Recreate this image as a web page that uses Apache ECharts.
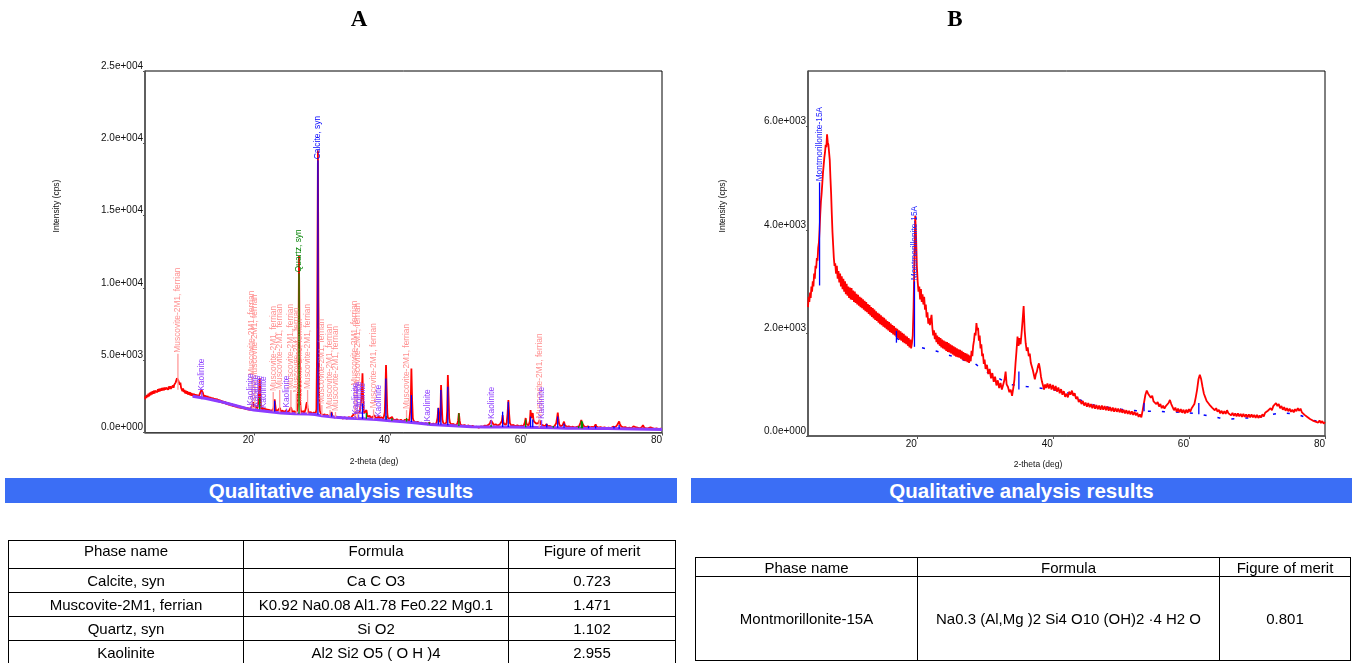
<!DOCTYPE html>
<html>
<head>
<meta charset="utf-8">
<script src="https://cdn.jsdelivr.net/npm/echarts@6/dist/echarts.min.js"></script>
<style>
html,body{margin:0;padding:0;background:#fff;overflow:hidden;}
#wrap{position:relative;width:1357px;height:663px;overflow:hidden;font-family:"Liberation Sans",Arial,Helvetica,sans-serif;}
#chart{position:absolute;left:0;top:0;width:1357px;height:663px;}
.bar{position:absolute;height:25px;line-height:25px;background:#3b6ef5;color:#fff;font-weight:bold;font-size:20.5px;text-align:center;}
table{position:absolute;border-collapse:collapse;font-size:15px;color:#000;table-layout:fixed;}
td{border:1px solid #000;text-align:center;padding:0;white-space:nowrap;overflow:hidden;}
</style>
</head>
<body>
<div id="wrap">
<div id="chart"></div>
<div class="bar" style="left:5px;top:478px;width:672px;">Qualitative analysis results</div>
<div class="bar" style="left:691px;top:478px;width:661px;">Qualitative analysis results</div>
<table id="tA" style="left:8px;top:540px;width:667px;">
<colgroup><col style="width:235px"><col style="width:265px"><col style="width:167px"></colgroup>
<tr style="height:28px"><td style="vertical-align:top;padding-top:1px">Phase name</td><td style="vertical-align:top;padding-top:1px">Formula</td><td style="vertical-align:top;padding-top:1px">Figure of merit</td></tr>
<tr style="height:24px"><td>Calcite, syn</td><td>Ca C O3</td><td>0.723</td></tr>
<tr style="height:24px"><td>Muscovite-2M1, ferrian</td><td>K0.92 Na0.08 Al1.78 Fe0.22 Mg0.1</td><td>1.471</td></tr>
<tr style="height:24px"><td>Quartz, syn</td><td>Si O2</td><td>1.102</td></tr>
<tr style="height:24px"><td>Kaolinite</td><td>Al2 Si2 O5 ( O H )4</td><td>2.955</td></tr>
</table>
<table id="tB" style="left:695px;top:557px;width:655px;">
<colgroup><col style="width:222px"><col style="width:302px"><col style="width:131px"></colgroup>
<tr style="height:19px"><td>Phase name</td><td>Formula</td><td>Figure of merit</td></tr>
<tr style="height:84px"><td>Montmorillonite-15A</td><td>Na0.3 (Al,Mg )2 Si4 O10 (OH)2 ·4 H2 O</td><td>0.801</td></tr>
</table>
</div>
<script>
// ---------------- DATA ----------------
const xTicks = [20, 40, 60, 80];
const yTicksB = [0, 2000, 4000, 6000];

// Chart A measured pattern [2theta, intensity (cps)]
const patternA = [[4.0,2300],[4.1,2520],[4.2,2380],[4.3,2600],[4.4,2450],[4.5,2680],[4.6,2500],[4.7,2750],[4.8,2580],[4.9,2800],[5.0,2620],[5.1,2850],[5.2,2680],[5.3,2900],[5.4,2700],[5.5,2880],[5.6,2760],[5.7,2950],[5.8,2780],[5.9,3000],[6.0,2820],[6.1,3020],[6.2,2850],[6.3,3050],[6.4,2880],[6.5,3080],[6.6,2900],[6.7,3100],[6.8,2920],[6.9,3120],[7.0,2950],[7.1,3100],[7.2,2980],[7.3,3150],[7.4,2960],[7.5,3180],[7.6,3000],[7.7,3200],[7.8,3020],[7.9,3150],[8.0,3050],[8.1,3250],[8.2,3100],[8.3,3300],[8.4,3250],[8.5,3450],[8.6,3550],[8.7,3750],[8.8,3880],[8.9,3600],[9.0,3450],[9.1,3300],[9.2,3450],[9.3,3100],[9.4,3000],[9.5,2850],[9.6,3050],[9.7,2800],[9.8,2950],[9.9,2700],[10.0,2900],[10.1,2680],[10.2,2850],[10.3,2620],[10.4,2800],[10.5,2600],[10.6,2780],[10.7,2560],[10.8,2740],[10.9,2540],[11.0,2700],[11.1,2500],[11.2,2680],[11.3,2480],[11.4,2650],[11.5,2450],[11.6,2640],[11.7,2430],[11.8,2600],[11.9,2420],[12.0,2620],[12.1,2500],[12.2,2750],[12.3,2950],[12.4,3050],[12.5,2750],[12.6,2600],[12.7,2420],[12.8,2580],[12.9,2380],[13.0,2550],[13.1,2350],[13.2,2520],[13.3,2320],[13.4,2480],[13.5,2300],[13.6,2460],[13.7,2270],[13.8,2430],[13.9,2240],[14.0,2400],[14.1,2200],[14.2,2380],[14.3,2180],[14.4,2350],[14.5,2150],[14.6,2330],[14.7,2120],[14.8,2300],[14.9,2100],[15.0,2260],[15.1,2070],[15.2,2230],[15.3,2040],[15.4,2200],[15.5,2010],[15.6,2170],[15.7,1980],[15.8,2140],[15.9,1950],[16.0,2100],[16.1,1920],[16.2,2080],[16.3,1890],[16.4,2050],[16.5,1860],[16.6,2020],[16.7,1830],[16.8,1990],[16.9,1800],[17.0,1960],[17.1,1780],[17.2,1930],[17.3,1750],[17.4,1900],[17.5,1730],[17.6,1880],[17.7,1700],[17.8,1860],[17.9,1680],[18.0,1840],[18.1,1660],[18.2,1810],[18.3,1640],[18.4,1790],[18.5,1620],[18.6,1770],[18.7,1600],[18.8,1750],[18.9,1580],[19.0,1730],[19.1,1560],[19.2,1710],[19.3,1540],[19.4,1690],[19.5,1530],[19.6,1700],[19.7,1600],[19.8,1950],[19.9,2100],[20.0,1750],[20.1,1900],[20.2,2000],[20.3,1700],[20.4,1850],[20.5,1650],[20.6,1800],[20.7,2200],[20.8,3200],[20.86,3760],[20.95,2800],[21.05,1800],[21.1,1600],[21.2,1750],[21.3,1550],[21.4,1720],[21.5,1520],[21.6,1680],[21.7,1500],[21.8,1650],[21.9,1480],[22.0,1620],[22.1,1460],[22.2,1600],[22.3,1440],[22.4,1580],[22.5,1430],[22.6,1570],[22.7,1420],[22.8,1560],[22.9,1700],[23.0,2000],[23.06,2300],[23.15,1900],[23.25,1500],[23.35,1600],[23.45,1400],[23.55,1550],[23.65,1420],[23.75,1600],[23.85,1700],[23.95,1450],[24.05,1550],[24.15,1380],[24.25,1520],[24.35,1360],[24.45,1500],[24.55,1350],[24.65,1480],[24.75,1550],[24.85,1380],[24.95,1500],[25.05,1360],[25.15,1480],[25.25,1400],[25.35,1550],[25.45,1750],[25.55,1600],[25.65,1400],[25.75,1500],[25.85,1350],[25.95,1480],[26.05,1340],[26.15,1470],[26.25,1350],[26.35,1500],[26.45,1900],[26.55,5000],[26.64,12200],[26.72,6000],[26.8,2200],[26.9,1550],[27.0,1400],[27.1,1500],[27.2,1350],[27.3,1480],[27.4,1340],[27.5,1450],[27.6,1600],[27.7,1900],[27.8,2100],[27.9,1700],[28.0,1500],[28.1,1350],[28.2,1450],[28.3,1300],[28.4,1420],[28.5,1280],[28.6,1400],[28.7,1270],[28.8,1380],[28.9,1300],[29.0,1400],[29.1,1350],[29.2,1600],[29.3,6000],[29.42,19500],[29.5,9000],[29.6,2500],[29.7,1500],[29.8,1350],[29.9,1220],[30.0,1320],[30.1,1180],[30.2,1300],[30.3,1160],[30.4,1270],[30.5,1130],[30.6,1250],[30.7,1110],[30.8,1220],[30.9,1090],[31.0,1200],[31.1,1080],[31.2,1180],[31.3,1250],[31.42,1420],[31.55,1150],[31.65,1050],[31.75,1150],[31.85,1030],[31.95,1130],[32.05,1010],[32.15,1110],[32.25,1000],[32.35,1100],[32.45,990],[32.55,1090],[32.65,980],[32.75,1080],[32.85,970],[32.95,1070],[33.05,960],[33.15,1060],[33.25,960],[33.35,1050],[33.45,950],[33.55,1050],[33.65,950],[33.75,1050],[33.85,960],[33.95,1060],[34.05,980],[34.15,1080],[34.25,1000],[34.35,1120],[34.45,1080],[34.55,1200],[34.65,1150],[34.75,1300],[34.85,1250],[34.95,1400],[35.05,1350],[35.15,1500],[35.25,1380],[35.35,1450],[35.45,1300],[35.55,1380],[35.65,1280],[35.75,1500],[35.85,2500],[35.97,4100],[36.05,2600],[36.15,1500],[36.25,1350],[36.35,1450],[36.45,1300],[36.55,1550],[36.65,1250],[36.75,1100],[36.85,1200],[36.95,1050],[37.05,1150],[37.15,1000],[37.25,1100],[37.35,980],[37.45,1080],[37.55,1000],[37.65,1100],[37.75,1200],[37.85,1050],[37.95,960],[38.05,1080],[38.15,980],[38.25,1100],[38.35,1150],[38.45,1000],[38.55,1080],[38.65,950],[38.75,1050],[38.85,940],[38.95,1040],[39.05,960],[39.15,1050],[39.25,1400],[39.35,3000],[39.43,4660],[39.52,3000],[39.62,1300],[39.72,1000],[39.82,950],[39.92,880],[40.02,980],[40.12,880],[40.22,960],[40.32,1080],[40.42,930],[40.52,860],[40.62,940],[40.72,840],[40.82,920],[40.92,830],[41.02,910],[41.12,820],[41.22,900],[41.32,810],[41.42,890],[41.52,800],[41.62,880],[41.72,790],[41.82,870],[41.92,780],[42.02,860],[42.12,790],[42.22,880],[42.32,950],[42.45,1000],[42.55,880],[42.65,800],[42.75,870],[42.85,820],[42.95,950],[43.05,1800],[43.16,4430],[43.27,2200],[43.37,1000],[43.47,820],[43.57,750],[43.67,820],[43.77,700],[43.87,770],[43.97,670],[44.07,740],[44.17,650],[44.27,720],[44.37,630],[44.47,700],[44.57,610],[44.67,680],[44.77,600],[44.87,670],[44.97,590],[45.07,660],[45.17,580],[45.27,650],[45.37,570],[45.47,640],[45.57,560],[45.67,630],[45.77,700],[45.87,580],[45.97,640],[46.07,550],[46.17,620],[46.27,540],[46.37,610],[46.47,530],[46.57,600],[46.67,540],[46.77,620],[46.87,700],[47.0,1000],[47.12,1700],[47.22,1000],[47.32,700],[47.42,1200],[47.52,3280],[47.62,2000],[47.72,900],[47.82,700],[47.92,620],[48.02,560],[48.12,620],[48.22,560],[48.32,700],[48.42,1500],[48.52,3970],[48.62,2500],[48.72,1000],[48.82,700],[48.92,600],[49.02,540],[49.12,600],[49.22,520],[49.32,590],[49.42,510],[49.52,580],[49.62,500],[49.72,560],[49.82,500],[49.92,600],[50.02,800],[50.14,1350],[50.26,800],[50.36,560],[50.46,490],[50.56,550],[50.66,470],[50.76,530],[50.86,460],[50.96,520],[51.06,450],[51.16,510],[51.26,440],[51.36,500],[51.46,430],[51.56,490],[51.66,420],[51.76,480],[51.86,410],[51.96,470],[52.06,400],[52.16,460],[52.26,390],[52.36,440],[52.46,370],[52.56,430],[52.66,340],[52.76,400],[52.86,300],[52.96,380],[53.06,330],[53.16,410],[53.26,350],[53.36,420],[53.46,380],[53.56,440],[53.66,400],[53.76,460],[53.86,420],[53.96,480],[54.06,440],[54.16,500],[54.26,460],[54.36,530],[54.46,480],[54.56,560],[54.66,620],[54.76,700],[54.86,850],[54.96,900],[55.06,700],[55.16,600],[55.26,520],[55.36,580],[55.46,500],[55.56,560],[55.66,490],[55.76,550],[55.86,480],[55.96,540],[56.06,490],[56.16,560],[56.26,520],[56.36,620],[56.46,800],[56.57,1200],[56.68,750],[56.78,580],[56.88,520],[56.98,600],[57.08,550],[57.18,700],[57.3,1300],[57.42,2250],[57.54,1200],[57.64,650],[57.74,540],[57.84,480],[57.94,540],[58.04,460],[58.14,520],[58.24,450],[58.34,510],[58.44,440],[58.54,500],[58.64,430],[58.74,490],[58.84,430],[58.94,480],[59.04,420],[59.14,480],[59.24,420],[59.34,470],[59.44,420],[59.54,480],[59.64,440],[59.74,500],[59.84,700],[59.96,1000],[60.08,600],[60.18,480],[60.28,540],[60.38,480],[60.48,580],[60.58,800],[60.68,1550],[60.78,1000],[60.88,900],[61.0,1350],[61.1,900],[61.2,750],[61.3,680],[61.4,740],[61.5,620],[61.6,680],[61.7,580],[61.8,640],[61.9,700],[62.0,860],[62.1,700],[62.2,560],[62.3,520],[62.4,460],[62.5,500],[62.6,430],[62.7,480],[62.8,420],[62.9,500],[63.0,580],[63.06,700],[63.15,520],[63.25,430],[63.35,470],[63.45,400],[63.55,450],[63.65,390],[63.75,440],[63.85,380],[63.95,430],[64.05,460],[64.15,400],[64.25,430],[64.35,500],[64.45,650],[64.57,1000],[64.68,1370],[64.78,900],[64.88,600],[64.98,480],[65.08,420],[65.18,470],[65.28,430],[65.38,500],[65.48,600],[65.6,750],[65.7,520],[65.8,420],[65.9,460],[66.0,390],[66.1,440],[66.2,380],[66.3,430],[66.4,370],[66.5,420],[66.6,360],[66.7,410],[66.8,350],[66.9,400],[67.0,350],[67.1,400],[67.2,340],[67.3,390],[67.4,340],[67.5,390],[67.6,350],[67.7,450],[67.8,420],[67.9,500],[68.0,650],[68.14,860],[68.22,700],[68.31,800],[68.4,600],[68.5,450],[68.6,390],[68.7,420],[68.8,360],[68.9,400],[69.0,360],[69.1,420],[69.2,520],[69.3,420],[69.4,360],[69.5,400],[69.6,350],[69.7,390],[69.8,340],[69.9,380],[70.0,350],[70.1,400],[70.24,560],[70.35,420],[70.45,360],[70.55,390],[70.65,340],[70.75,380],[70.85,330],[70.95,370],[71.05,320],[71.15,360],[71.25,320],[71.35,360],[71.45,310],[71.55,350],[71.65,310],[71.75,350],[71.85,300],[71.95,340],[72.05,300],[72.15,340],[72.25,300],[72.35,340],[72.45,300],[72.55,340],[72.65,320],[72.8,400],[72.94,500],[73.05,400],[73.15,360],[73.25,400],[73.35,460],[73.46,550],[73.58,620],[73.7,760],[73.8,600],[73.9,500],[74.0,420],[74.1,380],[74.2,420],[74.3,350],[74.4,390],[74.5,330],[74.6,370],[74.7,320],[74.8,360],[74.9,310],[75.0,350],[75.1,300],[75.2,340],[75.3,300],[75.4,340],[75.5,290],[75.6,330],[75.7,370],[75.8,420],[75.9,360],[76.0,330],[76.1,370],[76.2,310],[76.3,400],[76.4,330],[76.5,300],[76.6,340],[76.7,290],[76.8,330],[76.9,290],[77.0,350],[77.1,450],[77.2,500],[77.3,400],[77.4,330],[77.5,300],[77.6,330],[77.7,280],[77.8,320],[77.9,270],[78.0,310],[78.1,270],[78.2,320],[78.3,360],[78.4,300],[78.5,270],[78.6,300],[78.7,260],[78.8,290],[78.9,250],[79.0,280],[79.1,250],[79.2,280],[79.3,240],[79.4,270],[79.5,240],[79.6,270],[79.7,230],[79.8,260],[79.9,230],[80.0,250]];

// Chart A background curve (purple)
const backgroundA = [[11.0,2500],[13,2350],[15,2150],[17,1900],[19,1650],[20,1550],[22,1450],[24,1350],[26,1300],[28,1280],[29,1250],[30,1150],[32,1050],[34,980],[36,950],[38,900],[40,820],[42,750],[44,650],[46,550],[48,500],[50,450],[52,400],[54,380],[56,380],[58,380],[60,360],[62,340],[64,320],[66,300],[68,290],[70,280],[72,270],[74,260],[76,250],[78,230],[80,200]];

// Reference sticks: [2theta, base, top, labelled]
const calciteA = [[23.06,1450,2200,0],[29.42,1250,18830,1],[31.42,1100,1380,0],[35.97,950,2000,0],[39.41,900,3740,0],[43.16,720,2590,0],[47.12,550,1690,0],[47.5,550,2940,0],[48.51,500,3170,0],[56.57,380,1440,0],[57.4,380,2130,0],[60.68,360,1100,0],[61.0,360,900,0],[63.06,340,600,0],[64.67,330,1100,0],[65.6,320,620,0],[69.2,290,450,0],[70.24,280,460,0],[72.94,270,430,0],[73.7,260,520,0]];
const quartzA = [[20.86,1600,2400,0],[26.64,1300,11020,1],[36.54,950,1350,0],[39.47,900,1150,0],[40.29,820,1000,0],[42.45,750,1000,0],[45.79,550,700,0],[50.14,450,1330,0],[54.87,380,520,0],[59.96,360,900,0],[64.03,330,460,0],[67.74,300,450,0],[68.14,290,820,0],[68.31,290,760,0]];
const muscoviteA = [[8.84,2950,5450,1],[19.75,1650,3850,1],[20.15,1650,3600,1],[22.85,1450,2800,1],[23.8,1400,2940,1],[25.45,1350,2940,1],[26.25,1300,2700,1],[26.8,1300,1900,1],[27.9,1280,2940,1],[30.0,1150,1900,1],[31.2,1100,1550,1],[32.0,1050,1420,1],[34.85,980,3170,1],[35.2,970,3000,1],[37.6,920,1600,1],[42.45,750,1550,1],[61.95,350,900,1]];
const kaoliniteA = [[12.35,2300,2820,1],[19.55,1550,1800,1],[20.3,1550,1700,1],[20.85,1550,1650,1],[21.5,1500,1600,1],[24.8,1350,1650,1],[34.9,980,1150,1],[35.4,970,1250,1],[36.0,950,1150,1],[38.4,900,1000,1],[45.5,560,700,1],[54.9,380,860,1],[62.3,340,860,1]];

// Chart B measured pattern
const patternB = [[4.0,2500],[4.1,2700],[4.2,2600],[4.3,2780],[4.4,2680],[4.5,2900],[4.6,2800],[4.7,3000],[4.8,2900],[4.9,3150],[5.0,3050],[5.1,3300],[5.2,3250],[5.3,3450],[5.4,3400],[5.5,3650],[5.6,3750],[5.7,4000],[5.8,4300],[5.9,4550],[6.0,4700],[6.1,4900],[6.2,5100],[6.3,5250],[6.4,5400],[6.5,5500],[6.6,5650],[6.7,5600],[6.8,5850],[6.9,5700],[7.0,5650],[7.1,5500],[7.2,5350],[7.3,5000],[7.4,4700],[7.5,4300],[7.6,3950],[7.7,3700],[7.8,3450],[7.9,3300],[8.0,3350],[8.12,3150],[8.24,3300],[8.36,3050],[8.48,3200],[8.6,2980],[8.72,3150],[8.84,2900],[8.96,3100],[9.08,2850],[9.2,3050],[9.32,2800],[9.44,3000],[9.56,2750],[9.68,2950],[9.8,2720],[9.92,2900],[10.04,2680],[10.16,2880],[10.28,2650],[10.4,2870],[10.52,2640],[10.64,2820],[10.76,2600],[10.88,2800],[11.0,2580],[11.12,2760],[11.24,2550],[11.36,2740],[11.48,2530],[11.6,2700],[11.72,2500],[11.84,2680],[11.96,2480],[12.08,2650],[12.2,2450],[12.32,2620],[12.44,2420],[12.56,2600],[12.68,2400],[12.8,2560],[12.92,2370],[13.04,2540],[13.16,2340],[13.28,2500],[13.4,2310],[13.52,2480],[13.64,2280],[13.76,2450],[13.88,2250],[14.0,2420],[14.12,2230],[14.24,2390],[14.36,2200],[14.48,2370],[14.6,2170],[14.72,2340],[14.84,2150],[14.96,2310],[15.08,2120],[15.2,2290],[15.32,2100],[15.44,2260],[15.56,2070],[15.68,2230],[15.8,2050],[15.92,2210],[16.04,2020],[16.16,2180],[16.28,2000],[16.4,2150],[16.52,1970],[16.64,2130],[16.76,1950],[16.88,2100],[17.0,1920],[17.12,2080],[17.24,1900],[17.36,2050],[17.48,1870],[17.6,2030],[17.72,1850],[17.84,2000],[17.96,1820],[18.08,1980],[18.2,1800],[18.32,1950],[18.44,1780],[18.56,1930],[18.68,1750],[18.8,1900],[18.92,1720],[19.04,1870],[19.16,1700],[19.28,1800],[19.4,1950],[19.52,2500],[19.64,3400],[19.76,4270],[19.88,3900],[20.0,3300],[20.12,3000],[20.24,2800],[20.36,2900],[20.48,2650],[20.6,2850],[20.72,2600],[20.84,2750],[20.96,2550],[21.08,2700],[21.2,2450],[21.32,2550],[21.44,2300],[21.56,2400],[21.68,2180],[21.8,2280],[21.92,2150],[22.04,2250],[22.16,2350],[22.28,2100],[22.4,1950],[22.52,2050],[22.64,1880],[22.76,2000],[22.88,1820],[23.0,1950],[23.12,1780],[23.24,1920],[23.36,1750],[23.48,1900],[23.6,1720],[23.72,1870],[23.84,1700],[23.96,1850],[24.08,1680],[24.2,1830],[24.32,1650],[24.44,1820],[24.56,1630],[24.68,1800],[24.8,1620],[24.92,1780],[25.04,1600],[25.16,1760],[25.28,1580],[25.4,1740],[25.52,1560],[25.64,1720],[25.76,1540],[25.88,1700],[26.0,1530],[26.12,1680],[26.24,1520],[26.36,1670],[26.48,1500],[26.6,1650],[26.72,1480],[26.84,1630],[26.96,1460],[27.08,1610],[27.2,1450],[27.32,1600],[27.44,1430],[27.56,1580],[27.68,1420],[27.8,1560],[27.92,1450],[28.04,1650],[28.16,1550],[28.28,1750],[28.4,1850],[28.52,2000],[28.64,1950],[28.76,2190],[28.88,2050],[29.0,2100],[29.12,1850],[29.24,1950],[29.36,1700],[29.48,1780],[29.6,1550],[29.72,1600],[29.84,1400],[29.96,1480],[30.1,1300],[30.3,1380],[30.5,1200],[30.7,1300],[30.9,1120],[31.1,1220],[31.3,1050],[31.5,1150],[31.7,980],[31.9,1080],[32.1,930],[32.3,1030],[32.5,900],[32.7,1000],[32.9,1100],[33.05,1250],[33.2,1000],[33.4,950],[33.6,850],[33.8,900],[34.0,780],[34.2,950],[34.35,1100],[34.5,1400],[34.65,1650],[34.8,1930],[34.95,1750],[35.1,1900],[35.25,1780],[35.4,2000],[35.55,2250],[35.7,2520],[35.85,2050],[36.0,1800],[36.15,1650],[36.3,1720],[36.45,1550],[36.6,1600],[36.75,1420],[36.9,1450],[37.05,1280],[37.2,1250],[37.35,1100],[37.5,1200],[37.65,1250],[37.8,1350],[37.95,1410],[38.1,1300],[38.25,1150],[38.4,1050],[38.55,980],[38.7,900],[38.85,1000],[39.0,930],[39.2,1020],[39.4,920],[39.6,1010],[39.8,900],[40.0,990],[40.2,880],[40.4,970],[40.6,860],[40.8,940],[41.0,830],[41.2,910],[41.4,800],[41.6,870],[41.8,760],[42.0,820],[42.2,750],[42.4,860],[42.6,800],[42.8,880],[43.0,780],[43.2,830],[43.4,720],[43.6,760],[43.8,660],[44.0,700],[44.2,620],[44.4,680],[44.6,590],[44.8,650],[45.0,570],[45.2,640],[45.4,560],[45.6,620],[45.8,540],[46.0,610],[46.2,530],[46.4,600],[46.6,520],[46.8,590],[47.0,510],[47.2,590],[47.4,510],[47.6,580],[47.8,500],[48.0,570],[48.2,490],[48.4,560],[48.6,480],[48.8,550],[49.0,470],[49.2,540],[49.4,470],[49.6,530],[49.8,460],[50.0,520],[50.2,450],[50.4,510],[50.6,440],[50.8,500],[51.0,430],[51.2,490],[51.4,420],[51.6,480],[51.8,410],[52.0,470],[52.2,400],[52.4,450],[52.6,370],[52.8,420],[53.0,360],[53.2,500],[53.4,650],[53.6,800],[53.8,880],[54.0,820],[54.2,850],[54.4,740],[54.6,780],[54.8,670],[55.0,700],[55.2,620],[55.4,660],[55.6,570],[55.8,620],[56.0,540],[56.2,590],[56.4,530],[56.6,580],[56.8,560],[57.0,640],[57.2,700],[57.4,620],[57.6,560],[57.8,500],[58.0,550],[58.2,470],[58.4,530],[58.6,460],[58.8,520],[59.0,450],[59.2,510],[59.4,440],[59.6,510],[59.8,450],[60.0,520],[60.2,470],[60.4,540],[60.6,520],[60.8,620],[61.0,750],[61.2,900],[61.4,1100],[61.6,1190],[61.8,1100],[62.0,950],[62.2,820],[62.4,750],[62.6,680],[62.8,700],[63.0,610],[63.2,640],[63.4,550],[63.6,580],[63.8,500],[64.0,540],[64.2,470],[64.4,510],[64.6,440],[64.8,490],[65.0,430],[65.2,480],[65.4,430],[65.6,500],[65.8,440],[66.0,470],[66.2,400],[66.4,450],[66.6,390],[66.8,440],[67.0,380],[67.2,440],[67.4,380],[67.6,430],[67.8,370],[68.0,430],[68.2,370],[68.4,420],[68.6,360],[68.8,420],[69.0,360],[69.2,420],[69.4,360],[69.6,410],[69.8,350],[70.0,410],[70.2,350],[70.4,400],[70.6,360],[70.8,420],[71.0,380],[71.2,450],[71.4,420],[71.6,490],[71.8,460],[72.0,540],[72.2,500],[72.4,580],[72.6,560],[72.8,640],[73.0,580],[73.2,620],[73.4,540],[73.6,580],[73.8,510],[74.0,560],[74.2,490],[74.4,540],[74.6,480],[74.8,530],[75.0,470],[75.2,510],[75.4,460],[75.6,520],[75.8,480],[76.0,540],[76.2,490],[76.4,530],[76.6,460],[76.8,480],[77.0,410],[77.2,430],[77.4,370],[77.6,390],[77.8,330],[78.0,350],[78.2,300],[78.4,330],[78.6,280],[78.8,310],[79.0,260],[79.2,300],[79.4,250],[79.6,290],[79.8,240],[80.0,270]];

const backgroundB = [[17.0,1900],[19.5,1720],[20.5,1720],[22.8,1650],[28.6,1400],[30,1260],[33.7,1000],[35,980],[36.1,960],[38.6,920],[40,900],[42,850],[44,700],[46,600],[50,520],[53.2,480],[55,480],[58.9,460],[61.4,430],[62.8,390],[64.5,350],[66,330],[70,360],[73.5,450],[76,420],[78.3,300],[80,260]];

const montmorilloniteB = [[5.7,2920,4920,1],[17.0,1810,2040,0],[19.65,1730,3000,1],[35.0,900,1250,0],[53.4,480,640,0],[61.45,420,640,0]];

// ---------------- RENDER ----------------
const FONT = '"Liberation Sans", Arial, Helvetica, sans-serif';

function sci(v){
  if (v === 0) return '0.0e+000';
  const e = Math.floor(Math.log10(Math.abs(v)) + 1e-9);
  const m = v / Math.pow(10, e);
  return m.toFixed(1) + 'e' + (e < 0 ? '-' : '+') + String(Math.abs(e)).padStart(3, '0');
}

function sticks(name, data, color, labelColor, axisIdx){
  return {
    type: 'custom', name: name, xAxisIndex: axisIdx, yAxisIndex: axisIdx,
    data: data, z: 4, silent: true, clip: false,
    renderItem: function(params, api){
      const x = api.value(0), b = api.value(1), t = api.value(2), lab = api.value(3);
      const p0 = api.coord([x, b]), p1 = api.coord([x, t]);
      const children = [{type:'line', shape:{x1:p0[0], y1:p0[1], x2:p1[0], y2:p1[1]}, style:{stroke:color, lineWidth:1.3}}];
      if (lab) {
        children.push({type:'text', x:p1[0], y:p1[1] - 1, rotation: Math.PI/2,
          style:{text:name, fill:labelColor, fontSize:8.4, fontFamily:FONT, align:'left', verticalAlign:'middle'}});
      }
      return {type:'group', children: children};
    }
  };
}

function xAx(idx){
  return {type:'value', gridIndex:idx, min:4, max:80,
    axisLine:{show:true, onZero:false, lineStyle:{color:'#555', width:1.5}},
    axisTick:{show:true, customValues:xTicks, length:3, lineStyle:{color:'#555'}},
    axisLabel:{customValues:xTicks, align:'right', margin:3, fontSize:10, color:'#111', fontFamily:FONT},
    splitLine:{show:false}};
}

const chart = echarts.init(document.getElementById('chart'), null, {renderer:'canvas'});
chart.setOption({
  animation: false,
  grid: [
    {left:145, right:695, top:71, bottom:230.5, show:true, borderColor:'#000', borderWidth:1},
    {left:808, right:32, top:71, bottom:227, show:true, borderColor:'#000', borderWidth:1}
  ],
  xAxis: [xAx(0), xAx(1)],
  yAxis: [
    {type:'value', gridIndex:0, min:0, max:25000, interval:5000,
      axisLine:{show:true, lineStyle:{color:'#555', width:1.5}},
      axisTick:{show:true, length:2, lineStyle:{color:'#555'}},
      axisLabel:{formatter:sci, verticalAlign:'bottom', margin:2, fontSize:10, color:'#111', fontFamily:FONT},
      splitLine:{show:false}},
    {type:'value', gridIndex:1, min:0, max:7080,
      axisLine:{show:true, lineStyle:{color:'#555', width:1.5}},
      axisTick:{show:true, customValues:yTicksB, length:2, lineStyle:{color:'#555'}},
      axisLabel:{customValues:yTicksB, formatter:sci, verticalAlign:'bottom', margin:2, fontSize:10, color:'#111', fontFamily:FONT},
      splitLine:{show:false}}
  ],
  graphic: [
    {type:'text', x:359, y:20, style:{text:'A', fontSize:23, fontWeight:'bold', fontFamily:'"Liberation Serif", "Times New Roman", serif', fill:'#000', align:'center', verticalAlign:'middle'}},
    {type:'text', x:955, y:20, style:{text:'B', fontSize:23, fontWeight:'bold', fontFamily:'"Liberation Serif", "Times New Roman", serif', fill:'#000', align:'center', verticalAlign:'middle'}},
    {type:'text', x:57, y:206, rotation:Math.PI/2, style:{text:'Intensity (cps)', fontSize:8.5, fontFamily:FONT, fill:'#111', align:'center', verticalAlign:'middle'}},
    {type:'text', x:723, y:206, rotation:Math.PI/2, style:{text:'Intensity (cps)', fontSize:8.5, fontFamily:FONT, fill:'#111', align:'center', verticalAlign:'middle'}},
    {type:'text', x:374, y:462, style:{text:'2-theta (deg)', fontSize:8.5, fontFamily:FONT, fill:'#111', align:'center', verticalAlign:'middle'}},
    {type:'text', x:1038, y:465, style:{text:'2-theta (deg)', fontSize:8.5, fontFamily:FONT, fill:'#111', align:'center', verticalAlign:'middle'}}
  ],
  series: [
    {type:'line', name:'Measured A', xAxisIndex:0, yAxisIndex:0, data:patternA, showSymbol:false, z:2,
      lineStyle:{color:'#ff0000', width:1.8}, silent:true},
    {type:'line', name:'Background A', xAxisIndex:0, yAxisIndex:0, data:backgroundA, showSymbol:false, z:3,
      lineStyle:{color:'#8c3cff', width:3}, silent:true},
    sticks('Muscovite-2M1, ferrian', muscoviteA, '#ff9a9a', '#ff8f8f', 0),
    sticks('Kaolinite', kaoliniteA, '#8c3cff', '#8c3cff', 0),
    sticks('Quartz, syn', quartzA, '#009000', '#008000', 0),
    sticks('Calcite, syn', calciteA, '#0000ff', '#0000ff', 0),
    {type:'line', name:'Background B', xAxisIndex:1, yAxisIndex:1, data:backgroundB, showSymbol:false, z:1,
      lineStyle:{color:'#0000ff', width:1.5, type:[3,11]}, silent:true},
    {type:'line', name:'Measured B', xAxisIndex:1, yAxisIndex:1, data:patternB, showSymbol:false, z:2,
      lineStyle:{color:'#ff0000', width:1.8}, silent:true},
    sticks('Montmorillonite-15A', montmorilloniteB, '#0000ff', '#2020ff', 1)
  ]
});
</script>
</body>
</html>
